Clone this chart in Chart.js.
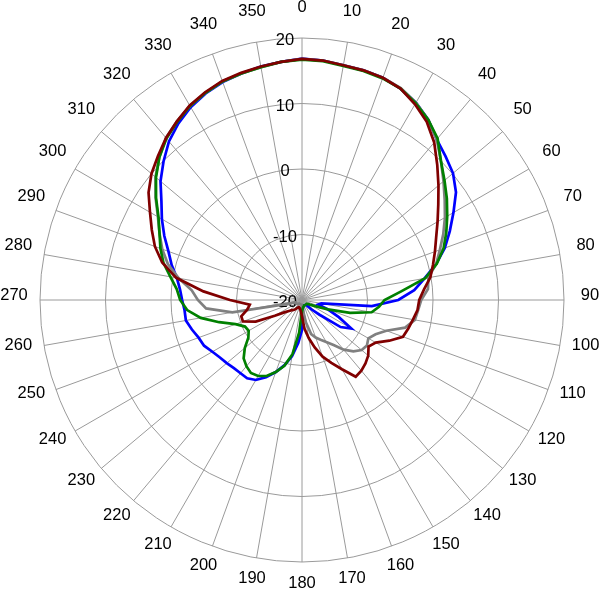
<!DOCTYPE html>
<html>
<head>
<meta charset="utf-8">
<script src="https://cdn.jsdelivr.net/npm/chart.js@4/dist/chart.umd.min.js"></script>
<style>
html,body{margin:0;padding:0;background:#fff;}
#wrap{width:600px;height:589px;}
</style>
</head>
<body>
<div id="wrap"><canvas id="c" width="600" height="589"></canvas></div>
<script>
// Angle categories (degrees, clockwise from top)
const angles = [0,5,10,15,20,25,30,35,40,45,50,55,60,65,70,75,80,85,90,95,100,105,110,115,
  120,125,130,135,140,145,150,155,160,165,170,175,180,185,190,195,200,205,210,215,220,225,230,235,
  240,245,250,255,260,265,270,275,280,285,290,295,300,305,310,315,320,325,330,335,340,345,350,355];

// Radial tick labels (dB)
const tickValues = [-20, -10, 0, 10, 20];

// Series values (dB) at each angle
const redSeries = [16.8,16.7,16.4,16.3,16.1,15.6,14.5,13.2,11.4,9.2,7.2,5.4,
  3.9,2.6,1.6,0.7,-0.1,-1.3,-2.1,-2.3,-2.8,-3.2,-3.6,-5.3,
  -7.0,-7.6,-6.8,-6.3,-5.9,-5.7,-7.8,-9.4,-10.8,-12.5,-14.1,-15.6,
  -17.5,-18.2,-18.5,-18.7,-18.8,-18.8,-18.6,-18.3,-18.0,-17.8,-17.4,-16.7,
  -15.2,-12.2,-10.4,-10.4,-11.5,-12.0,-9.0,-4.9,-0.5,2.1,3.9,5.3,
  6.8,8.6,10.0,11.1,12.3,13.3,14.3,15.0,15.6,15.9,16.2,16.5];

const graySeries = [16.8,16.7,16.4,16.3,16.1,15.7,14.8,13.6,12.0,10.0,8.2,6.6,
  5.2,3.8,2.4,1.2,-0.4,-0.7,-1.8,-2.2,-2.5,-3.7,-6.3,-7.6,
  -8.3,-7.9,-8.1,-8.9,-10.1,-11.6,-12.6,-13.3,-13.9,-14.6,-16.5,-18.5,
  -19.2,-19.3,-19.3,-19.3,-19.3,-19.3,-19.3,-19.3,-19.3,-19.2,-19.1,-19.0,
  -19.0,-19.0,-19.0,-17.7,-9.2,-5.3,-4.1,-3.1,-0.9,1.2,2.7,4.0,
  5.4,7.3,9.2,10.8,12.3,13.3,14.2,14.9,15.5,15.8,16.1,16.5];

const greenSeries = [16.7,16.6,16.3,16.2,16.0,15.6,14.7,13.6,12.2,10.0,8.4,7.0,
  5.6,4.3,3.0,1.3,-0.9,-4.8,-7.4,-8.2,-9.2,-12.4,-15.8,-17.8,
  -18.6,-19.0,-19.1,-19.1,-19.1,-19.1,-19.1,-19.1,-19.1,-19.0,-18.9,-18.7,
  -18.3,-15.0,-11.6,-9.6,-8.3,-7.2,-6.6,-6.4,-6.8,-7.4,-8.6,-10.0,
  -10.6,-10.4,-9.2,-6.9,-4.3,-2.4,-1.4,-0.8,0.4,1.9,3.0,4.0,
  5.3,7.2,9.1,10.8,12.2,13.2,14.2,14.9,15.5,15.8,16.1,16.5];

const blueSeries = [16.85,16.7,16.4,16.3,16.1,15.6,14.8,13.6,12.0,11.0,10.1,8.7,
  6.7,4.9,3.2,1.2,-1.0,-2.8,-5.3,-9.3,-17.0,-17.4,-15.8,-13.8,
  -11.3,-12.8,-16.5,-18.0,-19.0,-19.1,-19.1,-19.1,-19.1,-19.0,-19.0,-18.5,
  -15.4,-13.4,-11.3,-9.7,-8.3,-7.0,-5.9,-5.4,-5.4,-5.3,-5.0,-4.7,
  -4.2,-3.5,-3.2,-2.6,-2.0,-2.0,-1.7,-1.3,-0.6,0.6,1.7,3.2,
  4.7,6.2,8.2,9.9,11.6,12.9,14.0,14.8,15.4,15.8,16.2,16.5];

const GRID = '#9a9a9a';
const FONT = '16.5px "Liberation Sans", Arial, sans-serif';

const textPlugin = {
  id: 'polarText',
  beforeDatasetsDraw(chart) {
    const s = chart.scales.r;
    const ctx = chart.ctx;
    ctx.save();
    ctx.font = FONT;
    ctx.fillStyle = '#000';
    ctx.textAlign = 'center';
    ctx.textBaseline = 'middle';
    tickValues.forEach(v => {
      const d = s.getDistanceFromCenterForValue(v);
      ctx.fillText(String(v), s.xCenter - 17, s.yCenter - d + 2.5);
    });
    angles.forEach((a, i) => {
      if (a % 10 !== 0) return;
      const p = s.getPointPosition(i, s.drawingArea + 26);
      ctx.fillText(String(a), p.x, p.y - 5);
    });
    ctx.restore();
  }
};

function ds(label, data, color) {
  return { label, data, borderColor: color, backgroundColor: color, borderWidth: 2.7,
           pointRadius: 0, pointHoverRadius: 0, fill: false, tension: 0 };
}

new Chart(document.getElementById('c'), {
  type: 'radar',
  data: {
    labels: angles.map(String),
    datasets: [
      ds('Series 4', redSeries, '#800000'),
      ds('Series 2', greenSeries, '#008000'),
      ds('Series 3', graySeries, '#808080'),
      ds('Series 1', blueSeries, '#0000ff')
    ]
  },
  options: {
    responsive: false,
    animation: false,
    layout: { padding: { left: 40, top: 38, right: 35.5, bottom: 26.5 } },
    plugins: { legend: { display: false }, tooltip: { enabled: false } },
    scales: {
      r: {
        min: -20, max: 20,
        ticks: { stepSize: 10, display: false },
        grid: { circular: true, color: GRID, lineWidth: 1 },
        angleLines: {
          display: true,
          color: GRID,
          lineWidth: (c) => (angles[c.index] % 10 === 0 ? 1 : 0)
        },
        pointLabels: { display: false }
      }
    }
  },
  plugins: [textPlugin]
});
</script>
</body>
</html>
